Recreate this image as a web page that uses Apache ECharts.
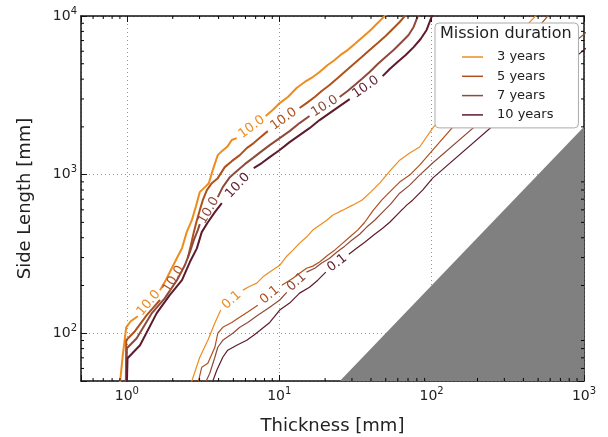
<!DOCTYPE html>
<html>
<head>
<meta charset="utf-8">
<script src="https://cdn.jsdelivr.net/npm/echarts/dist/echarts.min.js"></script>
<style>
html,body{margin:0;padding:0;background:#fff;}
#chart{width:608px;height:437px;}
</style>
</head>
<body>
<div id="chart"></div>
<script>
// ---------- data ----------
const durations = ['3 years', '5 years', '7 years', '10 years'];

// contour level 10.0 (null = gap for the inline label)
const c10_3 = [[0.9,48],[0.94,72.6],[0.99,109],[1.06,119],[1.18,128],null,[1.65,187],[1.80,216],[1.97,257],[2.16,306],[2.30,343],[2.47,434],[2.67,516],[2.83,624],[3.01,776],[3.25,834],[3.45,883],[3.66,1067],[3.95,1327],[4.20,1406],[4.59,1512],[4.88,1652],[5.26,1700],null,[8.15,2340],[9.06,2553],[10.07,2825],[11.4,3083],[13.0,3516],[14.7,3838],[16.6,4121],[18.4,4436],[20.8,4911],[23.1,5277],[25.7,5754],[28.1,6099],[31.3,6653],[35.3,7374],[39.2,8043],[43.6,8913],[50.7,10300]];
const c10_5 = [[0.985,48],[0.99,90.3],[1.13,103],[1.35,130],[1.65,162],null,[2.51,297],[2.63,359],[2.75,434],[2.88,516],[3.01,597],[3.15,690],[3.35,798],[3.61,883],[3.95,950],[4.39,1115],[4.88,1216],[5.51,1327],[6.12,1469],[6.80,1580],[7.56,1725],[8.41,1880],null,[13.6,2630],[15.1,2825],[17.1,3083],[19.0,3365],[21.4,3673],[24.2,4064],[27.3,4498],[30.8,4977],[34.8,5508],[39.2,6099],[44.3,6761],[49.9,7482],[55.5,8280],[61.7,9162],[68.6,10300]];
const c10_7 = [[0.99,48],[1.0,80.4],[1.16,93],[1.46,134],[1.77,166],[2.13,216],[2.40,268],[2.59,324],[2.75,386],[2.92,447],[3.01,487],null,[3.95,721],[4.26,834],[4.74,964],[5.34,1067],[5.94,1164],[6.70,1270],[7.68,1406],[8.66,1535],[10.07,1700],[11.7,1880],[13.6,2113],[15.8,2340],null,[24.9,3083],[28.1,3365],[31.3,3673],[34.8,4009],[39.2,4436],[44.3,4977],[49.9,5508],[56.3,6099],[63.6,6855],[70.6,7586],[76.2,8531],[82.2,10300]];
const c10_10 = [[1.0,48],[1.01,69.5],[1.22,84],[1.57,134],[1.91,174],[2.30,216],[2.59,281],[2.88,343],[3.10,434],[3.40,501],[3.78,580],[4.20,661],null,[6.80,1099],[7.68,1183],[8.66,1289],[10.07,1429],[11.7,1603],[13.6,1774],[15.8,1963],[18.4,2208],[21.4,2443],[24.9,2704],[29.0,2992],null,[47.7,4178],[53.1,4634],[59.8,5128],[67.6,5675],[76.2,6368],[84.7,7161],[92.7,8166],[97.0,9162],[101.6,10300]];

// contour level 0.1
const c01_3 = [[2.63,48],[3.01,70.6],[3.40,90.3],[3.78,116],[4.13,140],null,[5.77,187],[6.41,198],[7.12,207],[7.91,229],[8.66,243],[10.07,268],[11.2,306],[12.3,334],[13.6,370],[15.1,404],[16.6,447],[18.4,480],[20.5,516],[22.4,555],[26.1,597],[30.3,642],[34.8,690],[39.8,776],[45.6,883],[53.1,1052],[61.7,1233],[71.8,1367],[83.4,1493],[101.6,1963],[206,4246],[495,10300]];
const c01_5 = [[2.92,48],[3.10,61.0],[3.40,64.7],[3.78,81.6],[3.95,100],[4.26,109],[4.88,117],[5.34,124],[6.21,136],[7.23,150],null,[10.4,201],[12.3,222],[13.6,239],[15.1,257],[16.6,265],[18.4,281],[20.8,310],[23.1,334],[26.1,370],[29.0,404],[32.7,447],[36.4,501],[41.0,589],[47.0,690],[53.8,787],[61.7,897],[71.8,993],[83.4,1148],[101.6,1429],[240,3673],[594,10300]];
const c01_7 = [[3.25,48],[3.50,56.0],[3.78,70.6],[3.95,81.6],[4.26,90.3],[4.96,100],[5.51,109],[6.21,117],[7.23,130],[8.66,146],[10.07,162],[11.2,181],null,[15.1,243],[17.1,257],[19.0,277],[21.4,297],[23.8,324],[26.9,354],[29.9,386],[33.7,421],[37.5,467],[42.3,516],[47.7,580],[53.8,651],[61.7,764],[71.8,859],[83.4,993],[101.6,1183],[279,2742],[1100,8300]];
const c01_10 = [[3.61,48],[3.89,58.5],[4.26,70.6],[4.59,78.2],[5.26,84],[6.12,90.3],[6.80,97.1],[7.45,104],[8.66,117],[10.07,140],[11.7,155],[13.6,179],[15.8,195],[17.9,216],[20.2,243],null,[28.6,315],[32.2,343],[36.4,375],[42.3,421],[47.7,459],[53.1,501],[61.7,580],[68.6,642],[75.0,690],[87.3,798],[101.6,950],[279,2210],[1100,6600]];

// inline contour labels [thickness, side length]
const lab10_3 = [[1.39,155],[6.6,1995]];
const lab10_5 = [[2.03,219],[10.7,2240]];
const lab10_7 = [[3.45,593],[19.9,2704]];
const lab10_10 = [[5.34,853],[36.9,3560]];
const lab01_3 = [[4.88,162]];
const lab01_5 = [[8.66,174]];
const lab01_7 = [[13.0,210]];
const lab01_10 = [[24.0,277]];
const levelText10 = '10.0';
const levelText01 = '0.1';

// excluded region: side length below 2 x thickness
const shadeX = [25, 1000];
const shadeY = [50, 2000];

// axes
const xMin = 0.5, xMax = 1000, yMin = 50, yMax = 10000;
const xMinor = [0.6,0.7,0.8,0.9,2,3,4,5,6,7,8,9,20,30,40,50,60,70,80,90,200,300,400,500,600,700,800,900];
const yMinor = [60,70,80,90,200,300,400,500,600,700,800,900,2000,3000,4000,5000,6000,7000,8000,9000];

// ---------- styling ----------
const colors = ['#ee8c1f', '#b0511c', '#8f4a3c', '#5e1b2c'];
const rot10 = [[50,37],[58,36],[60,32],[47,35]];
const rot01 = [[42],[40],[42],[38]];
const FONT = 'DejaVu Sans';

const curves10 = [c10_3, c10_5, c10_7, c10_10];
const curves01 = [c01_3, c01_5, c01_7, c01_10];
const labs10 = [lab10_3, lab10_5, lab10_7, lab10_10];
const labs01 = [lab01_3, lab01_5, lab01_7, lab01_10];

function segments(arr) {
  const out = []; let cur = [];
  arr.forEach(p => { if (p === null) { if (cur.length) out.push(cur); cur = []; } else cur.push(p); });
  if (cur.length) out.push(cur);
  return out;
}

const series = [];
series.push({
  type: 'line', name: 'excluded', data: shadeX.map((x, i) => [x, shadeY[i]]),
  symbol: 'none', lineStyle: { width: 0 }, color: '#808080',
  areaStyle: { color: '#808080', opacity: 1, origin: 'start' }, z: 3, silent: true
});
durations.forEach((name, k) => {
  [[curves10[k], 2], [curves01[k], 1.2]].forEach(([arr, w]) => {
    segments(arr).forEach(seg => {
      series.push({
        type: 'line', name, data: seg, symbol: 'none', color: colors[k],
        lineStyle: { color: colors[k], width: w }, clip: true, z: 2, silent: true
      });
    });
  });
  const labData = [];
  labs10[k].forEach((p, i) => labData.push({ value: p, label: { formatter: levelText10, rotate: rot10[k][i] } }));
  labs01[k].forEach((p, i) => labData.push({ value: p, label: { formatter: levelText01, rotate: rot01[k][i] } }));
  series.push({
    type: 'scatter', name: name + ' labels', data: labData, symbolSize: 2,
    itemStyle: { color: 'rgba(0,0,0,0)' }, z: 4, silent: true,
    label: { show: true, position: 'inside', color: colors[k], fontFamily: FONT, fontSize: 13, opacity: 1 },
    labelLayout: { hideOverlap: false }
  });
});
// minor ticks on all four sides
series.push({
  type: 'custom', name: 'xminor', data: xMinor.map(v => [v, 100]), z: 10, silent: true,
  renderItem: (params, api) => {
    const cs = params.coordSys; const p = api.coord([api.value(0), 100]);
    const st = { stroke: '#000', lineWidth: 1 };
    return { type: 'group', children: [
      { type: 'line', shape: { x1: p[0], y1: cs.y + cs.height, x2: p[0], y2: cs.y + cs.height - 3 }, style: st },
      { type: 'line', shape: { x1: p[0], y1: cs.y, x2: p[0], y2: cs.y + 3 }, style: st }
    ]};
  }
});
series.push({
  type: 'custom', name: 'yminor', data: yMinor.map(v => [1, v]), z: 10, silent: true,
  renderItem: (params, api) => {
    const cs = params.coordSys; const p = api.coord([1, api.value(1)]);
    const st = { stroke: '#000', lineWidth: 1 };
    return { type: 'group', children: [
      { type: 'line', shape: { x1: cs.x, y1: p[1], x2: cs.x + 3, y2: p[1] }, style: st },
      { type: 'line', shape: { x1: cs.x + cs.width, y1: p[1], x2: cs.x + cs.width - 3, y2: p[1] }, style: st }
    ]};
  }
});

function isPow(v) { const l = Math.log10(v); return Math.abs(l - Math.round(l)) < 1e-6; }
const richLab = {
  b: { fontSize: 14, lineHeight: 20, fontFamily: FONT, color: '#222' },
  s: { fontSize: 10, lineHeight: 10, verticalAlign: 'top', fontFamily: FONT, color: '#222' }
};
const powFmt = v => isPow(v) ? '{b|10}{s|' + Math.round(Math.log10(v)) + '}' : '';
const frame = { show: true, lineStyle: { color: '#111', width: 1.5 } };
const majorTick = { show: true, inside: true, length: 6, lineStyle: { color: '#111', width: 1 } };
const grid = { type: [1, 3], color: '#999', width: 1 };

const option = {
  animation: false,
  backgroundColor: '#fff',
  grid: { left: 81, top: 16, right: 24, bottom: 56, containLabel: false, outerBoundsMode: 'none' },
  title: {
    text: 'Mission duration', left: 440, top: 26, padding: 0,
    textStyle: { fontFamily: FONT, fontSize: 16, fontWeight: 'normal', color: '#222' }, z: 8
  },
  legend: {
    orient: 'vertical', left: 435, top: 23,
    data: durations.map((d, k) => ({ name: d, icon: 'rect', itemStyle: { color: colors[k] } })),
    itemWidth: 21, itemHeight: 1.5, itemGap: 4.3,
    padding: [26.5, 25, 5.5, 27],
    backgroundColor: '#ffffff', borderColor: '#aaa', borderWidth: 1, borderRadius: 4,
    textStyle: { fontFamily: FONT, fontSize: 13, color: '#222', lineHeight: 15, padding: [0, 0, 0, 9] },
    selectedMode: false, z: 6
  },
  xAxis: [{
    type: 'log', logBase: 10, min: xMin, max: xMax, position: 'bottom',
    name: 'Thickness [mm]', nameLocation: 'middle', nameGap: 36,
    nameTextStyle: { fontFamily: FONT, fontSize: 18, color: '#222' },
    axisLine: frame, axisTick: majorTick,
    axisLabel: { formatter: powFmt, margin: 5, rich: richLab, showMinLabel: true, showMaxLabel: true },
    splitLine: { show: true, lineStyle: grid }, minorTick: { show: false }
  }, {
    type: 'log', logBase: 10, min: xMin, max: xMax, position: 'top',
    axisLine: frame, axisTick: majorTick, axisLabel: { show: false }, splitLine: { show: false }
  }],
  yAxis: [{
    type: 'log', logBase: 10, min: yMin, max: yMax, position: 'left',
    name: 'Side Length [mm]', nameLocation: 'middle', nameGap: 47,
    nameTextStyle: { fontFamily: FONT, fontSize: 18, color: '#222' },
    axisLine: frame, axisTick: majorTick,
    axisLabel: { formatter: powFmt, margin: 4, rich: richLab, showMinLabel: true, showMaxLabel: true },
    splitLine: { show: true, lineStyle: grid }, minorTick: { show: false }
  }, {
    type: 'log', logBase: 10, min: yMin, max: yMax, position: 'right',
    axisLine: frame, axisTick: majorTick, axisLabel: { show: false }, splitLine: { show: false }
  }],
  series
};

const chart = echarts.init(document.getElementById('chart'), null, { renderer: 'canvas' });
chart.setOption(option);
</script>
</body>
</html>
